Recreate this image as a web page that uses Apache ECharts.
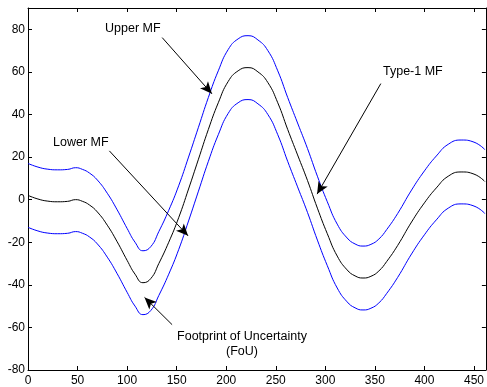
<!DOCTYPE html>
<html>
<head>
<meta charset="utf-8">
<script src="https://cdn.jsdelivr.net/npm/echarts@6/dist/echarts.min.js"></script>
<style>
html,body{margin:0;padding:0;background:#fff;}
#c{width:487px;height:387px;}
</style>
</head>
<body>
<div id="c"></div>
<script>
var xValues = [0,10,20,30,40,48,55,62,70,80,90,100,108,116,124,132,142,152,162,172,182,192,202,212,222,232,242,252,262,272,282,292,302,312,322,330,338,346,354,362,373,387,400,412,424,437,450,461];
var type1MF = [2,0.3,-0.7,-1,-0.8,0,-0.8,-2.5,-5.8,-12,-19.8,-28.5,-35,-39,-37,-30,-20,-8.5,5,19,33,45.5,55.5,60.5,62,60,55,45.5,33,21,9,-4,-16,-26.5,-33,-35.8,-36.8,-36,-33.5,-29,-21.5,-10.5,-1.5,5.5,11,13,12,8.5];
var upperMF = [17,15.3,14.3,14,14.2,15,14.2,12.5,9.2,3,-4.8,-13.5,-20,-24,-22,-15,-5,6.5,20,34,48,60.5,70.5,75.5,77,75,70,60.5,48,36,24,11,-1,-11.5,-18,-20.8,-21.8,-21,-18.5,-14,-6.5,4.5,13.5,20.5,26,28,27,23.5];
var lowerMF = [-13,-14.7,-15.7,-16,-15.8,-15,-15.8,-17.5,-20.8,-27,-34.8,-43.5,-50,-54,-52,-45,-35,-23.5,-10,4,18,30.5,40.5,45.5,47,45,40,30.5,18,6,-6,-19,-31,-41.5,-48,-50.8,-51.8,-51,-48.5,-44,-36.5,-25.5,-16.5,-9.5,-4,-2,-3,-6.5];
var xTicks = {min: 0, max: 462, interval: 50};
var yTicks = {min: -80, max: 90, interval: 20};
// annotation arrows: [startX, startY, tipX, tipY] in data units
var arrowUpper = [135.4, 76.1, 185.6, 49.7];
var arrowType1 = [356, 54.5, 291.7, 2.6];
var arrowLower = [82.1, 22.9, 161.5, -17.0];
var arrowFoU = [145.4, -58.7, 117.6, -45.9];
var labelTexts = ['Upper MF', 'Type-1 MF', 'Lower MF', 'Footprint of Uncertainty\n(FoU)'];

function pairs(ys){ return xValues.map(function(x,i){ return [x, ys[i]]; }); }
function arrow(a){
  return [{coord:[a[0],a[1]], symbol:'none'}, {coord:[a[2],a[3]], symbol:'arrow', symbolSize:[8,12]}];
}
var font = "'Liberation Sans', Arial, sans-serif";
var axisCommon = function(t, pos, showLabel, margin){
  return {
    type:'value', position:pos, min:t.min, max:t.max, interval:t.interval,
    axisLine:{show:true, onZero:false, lineStyle:{color:'#000', width:1}},
    axisTick:{show:true, inside:true, length:4, lineStyle:{color:'#000'}},
    axisLabel:{show:showLabel, color:'#000', fontSize:12, fontFamily:font, margin:margin, showMaxLabel:false},
    splitLine:{show:false}
  };
};
var tf = '12.5px ' + font;
var chart = echarts.init(document.getElementById('c'));
chart.setOption({
  animation:false,
  backgroundColor:'#fff',
  grid:{left:28, right:0, top:8, bottom:15, containLabel:false},
  xAxis:[axisCommon(xTicks,'bottom',true,5), axisCommon(xTicks,'top',false,5)],
  yAxis:[axisCommon(yTicks,'left',true,3), axisCommon(yTicks,'right',false,3)],
  series:[
    {type:'line', data:pairs(upperMF), smooth:true, showSymbol:false, lineStyle:{color:'#0000ff', width:1}, itemStyle:{color:'#0000ff'}},
    {type:'line', data:pairs(lowerMF), smooth:true, showSymbol:false, lineStyle:{color:'#0000ff', width:1}, itemStyle:{color:'#0000ff'}},
    {type:'line', data:pairs(type1MF), smooth:true, showSymbol:false, lineStyle:{color:'#000', width:1}, itemStyle:{color:'#000'},
     markLine:{silent:true, animation:false, label:{show:false}, lineStyle:{color:'#000', width:1, type:'solid'}, itemStyle:{color:'#000'},
       emphasis:{disabled:true},
       data:[arrow(arrowUpper), arrow(arrowType1), arrow(arrowLower), arrow(arrowFoU)]}}
  ],
  graphic:[
    {type:'text', x:105, y:29, style:{text:labelTexts[0], fill:'#000', font:tf, align:'left', verticalAlign:'middle'}},
    {type:'text', x:383, y:72, style:{text:labelTexts[1], fill:'#000', font:tf, align:'left', verticalAlign:'middle'}},
    {type:'text', x:53, y:143, style:{text:labelTexts[2], fill:'#000', font:tf, align:'left', verticalAlign:'middle'}},
    {type:'text', x:242, y:344, style:{text:labelTexts[3], fill:'#000', font:tf, align:'center', verticalAlign:'middle', lineHeight:14.5}}
  ]
});
</script>
</body>
</html>
